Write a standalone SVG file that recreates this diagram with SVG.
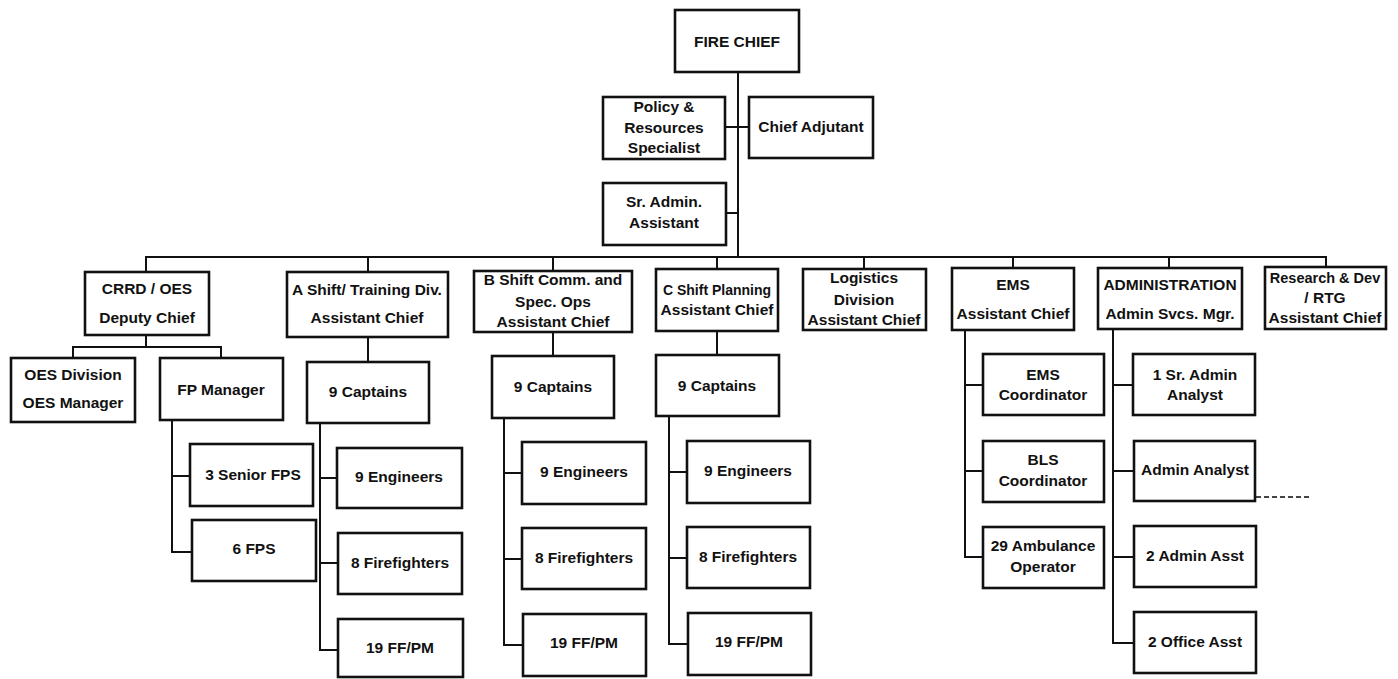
<svg xmlns="http://www.w3.org/2000/svg" width="1398" height="679" viewBox="0 0 1398 679">
<style>
.b{fill:#fff;stroke:#111;stroke-width:2.6}
.t{font-family:"Liberation Sans",Arial,sans-serif;font-weight:bold;font-size:15.5px;fill:#111;text-anchor:middle}
.c{fill:none;stroke:#111;stroke-width:2}
.d{fill:none;stroke:#444;stroke-width:1.8;stroke-dasharray:5 3}
</style>
<rect width="1398" height="679" fill="#fff"/>
<g id="connectors">
<path class="c" d="M738 72V257M725 127H749M726 213H738"/>
<path class="c" d="M146 272V257H1326V268M368 257V272M553 257V271M717 257V269M864 257V269M1013 257V268M1169 257V268"/>
<path class="c" d="M146 335V347M73 358V347H221V358"/>
<path class="c" d="M172 420V552H192M172 476H190"/>
<path class="c" d="M368 337V362M320 423V650H338M320 478H337M320 563H338"/>
<path class="c" d="M553 332V356M504 418V645H523M504 473H522M504 559H522"/>
<path class="c" d="M717 331V355M669 416V644H688M669 472H687M669 558H687"/>
<path class="c" d="M965 330V557H983M965 385H983M965 471H983"/>
<path class="c" d="M1113 329V643H1134M1113 385H1133M1113 471H1134M1113 557H1134"/>
<path class="d" d="M1256 497H1310"/>
</g>
<g id="fire-chief"><rect class="b" x="675" y="10" width="124" height="62"/><text class="t" x="737" y="47">FIRE CHIEF</text></g>
<g id="policy"><rect class="b" x="603" y="97" width="122" height="62"/><text class="t" x="664" y="112">Policy &amp;</text><text class="t" x="664" y="133">Resources</text><text class="t" x="664" y="153">Specialist</text></g>
<g id="chief-adjutant"><rect class="b" x="749" y="97" width="124" height="61"/><text class="t" x="811" y="132">Chief Adjutant</text></g>
<g id="sr-admin"><rect class="b" x="603" y="183" width="123" height="62"/><text class="t" x="664" y="207">Sr. Admin.</text><text class="t" x="664" y="228">Assistant</text></g>
<g id="crrd"><rect class="b" x="85" y="272" width="124" height="63"/><text class="t" x="147" y="294">CRRD / OES</text><text class="t" x="147" y="323">Deputy Chief</text></g>
<g id="a-shift"><rect class="b" x="287" y="272" width="161" height="65"/><text class="t" x="367" y="295">A Shift/ Training Div.</text><text class="t" x="367" y="323">Assistant Chief</text></g>
<g id="b-shift"><rect class="b" x="474" y="271" width="158" height="61"/><text class="t" x="553" y="285">B Shift Comm. and</text><text class="t" x="553" y="307">Spec. Ops</text><text class="t" x="553" y="327">Assistant Chief</text></g>
<g id="c-shift"><rect class="b" x="656" y="269" width="122" height="62"/><text class="t" x="717" y="295" style="font-size:14px">C Shift Planning</text><text class="t" x="717" y="315">Assistant Chief</text></g>
<g id="logistics"><rect class="b" x="803" y="269" width="123" height="61"/><text class="t" x="864" y="283">Logistics</text><text class="t" x="864" y="305">Division</text><text class="t" x="864" y="325">Assistant Chief</text></g>
<g id="ems"><rect class="b" x="952" y="268" width="122" height="62"/><text class="t" x="1013" y="290">EMS</text><text class="t" x="1013" y="319">Assistant Chief</text></g>
<g id="administration"><rect class="b" x="1098" y="268" width="144" height="61"/><text class="t" x="1170" y="290">ADMINISTRATION</text><text class="t" x="1170" y="319">Admin Svcs. Mgr.</text></g>
<g id="research"><rect class="b" x="1265" y="267" width="121" height="62"/><text class="t" x="1325" y="283" style="font-size:14.5px">Research &amp; Dev</text><text class="t" x="1325" y="303">/ RTG</text><text class="t" x="1325" y="323">Assistant Chief</text></g>
<g id="oes-division"><rect class="b" x="11" y="358" width="124" height="64"/><text class="t" x="73" y="380">OES Division</text><text class="t" x="73" y="408">OES Manager</text></g>
<g id="fp-manager"><rect class="b" x="160" y="358" width="123" height="62"/><text class="t" x="221" y="395">FP Manager</text></g>
<g id="senior-fps"><rect class="b" x="190" y="444" width="123" height="62"/><text class="t" x="253" y="480">3 Senior FPS</text></g>
<g id="fps"><rect class="b" x="192" y="520" width="124" height="61"/><text class="t" x="254" y="554">6 FPS</text></g>
<g id="a-captains"><rect class="b" x="307" y="362" width="122" height="61"/><text class="t" x="368" y="397">9 Captains</text></g>
<g id="a-engineers"><rect class="b" x="337" y="448" width="125" height="60"/><text class="t" x="399" y="482">9 Engineers</text></g>
<g id="a-firefighters"><rect class="b" x="338" y="533" width="124" height="61"/><text class="t" x="400" y="568">8 Firefighters</text></g>
<g id="a-ffpm"><rect class="b" x="338" y="619" width="125" height="58"/><text class="t" x="400" y="653">19 FF/PM</text></g>
<g id="b-captains"><rect class="b" x="492" y="356" width="122" height="62"/><text class="t" x="553" y="392">9 Captains</text></g>
<g id="b-engineers"><rect class="b" x="522" y="442" width="124" height="62"/><text class="t" x="584" y="477">9 Engineers</text></g>
<g id="b-firefighters"><rect class="b" x="522" y="528" width="124" height="61"/><text class="t" x="584" y="563">8 Firefighters</text></g>
<g id="b-ffpm"><rect class="b" x="523" y="614" width="123" height="62"/><text class="t" x="584" y="648">19 FF/PM</text></g>
<g id="c-captains"><rect class="b" x="656" y="355" width="123" height="61"/><text class="t" x="717" y="391">9 Captains</text></g>
<g id="c-engineers"><rect class="b" x="687" y="441" width="123" height="62"/><text class="t" x="748" y="476">9 Engineers</text></g>
<g id="c-firefighters"><rect class="b" x="687" y="527" width="123" height="61"/><text class="t" x="748" y="562">8 Firefighters</text></g>
<g id="c-ffpm"><rect class="b" x="688" y="613" width="123" height="62"/><text class="t" x="749" y="647">19 FF/PM</text></g>
<g id="ems-coordinator"><rect class="b" x="983" y="354" width="121" height="61"/><text class="t" x="1043" y="380">EMS</text><text class="t" x="1043" y="400">Coordinator</text></g>
<g id="bls-coordinator"><rect class="b" x="983" y="441" width="121" height="61"/><text class="t" x="1043" y="465">BLS</text><text class="t" x="1043" y="486">Coordinator</text></g>
<g id="ambulance"><rect class="b" x="983" y="527" width="121" height="61"/><text class="t" x="1043" y="551">29 Ambulance</text><text class="t" x="1043" y="572">Operator</text></g>
<g id="sr-admin-analyst"><rect class="b" x="1133" y="354" width="122" height="61"/><text class="t" x="1195" y="380">1 Sr. Admin</text><text class="t" x="1195" y="400">Analyst</text></g>
<g id="admin-analyst"><rect class="b" x="1134" y="441" width="121" height="60"/><text class="t" x="1195" y="475">Admin Analyst</text></g>
<g id="admin-asst"><rect class="b" x="1134" y="526" width="122" height="61"/><text class="t" x="1195" y="561">2 Admin Asst</text></g>
<g id="office-asst"><rect class="b" x="1134" y="612" width="122" height="61"/><text class="t" x="1195" y="647">2 Office Asst</text></g>
</svg>
